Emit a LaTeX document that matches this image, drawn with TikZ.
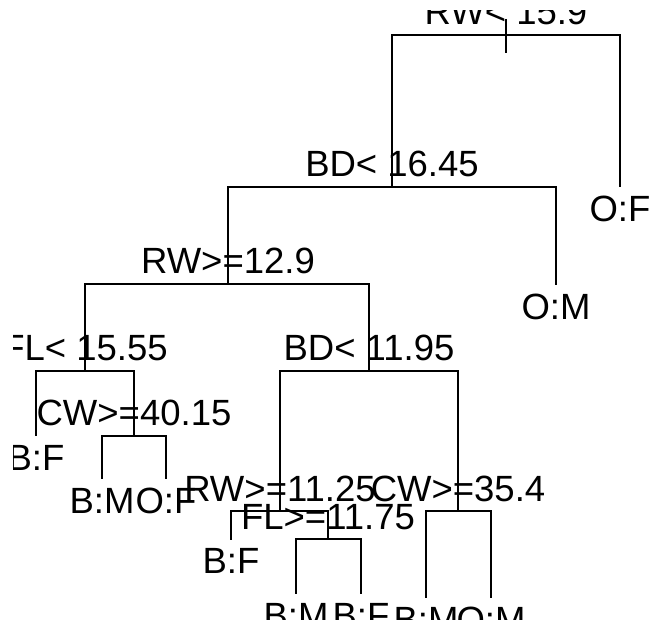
\documentclass[tikz,border=0pt]{standalone}
\usepackage{fontspec}
\setmainfont{Liberation Sans}
\begin{document}
\begin{tikzpicture}[x=1pt,y=-1pt,
  branch/.style={draw=black,line width=2pt},
  lbl/.style={anchor=base,inner sep=0pt,outer sep=0pt,font=\fontsize{36.5}{40}\selectfont}]
\useasboundingbox (0,0) rectangle (649,628);
\begin{scope}
\clip (13,11) rectangle (649,620);
% tree node positions
\coordinate (root) at (506,35);
\coordinate (rtop) at (506,19);
\coordinate (rbot) at (506,53);
\coordinate (bd1) at (392,187);
\coordinate (of1) at (620,187);
\coordinate (rw1) at (228,284);
\coordinate (om1) at (556,285);
\coordinate (fl1) at (85,371);
\coordinate (bd2) at (369,371);
\coordinate (bf1) at (36,436);
\coordinate (cw1) at (134,436);
\coordinate (bm1) at (102,479);
\coordinate (of2) at (166,479);
\coordinate (rw2) at (280,511);
\coordinate (cw2) at (458,511);
\coordinate (bf2) at (231,540);
\coordinate (fl2) at (328,539);
\coordinate (bm2) at (296,594);
\coordinate (bf3) at (361,594);
\coordinate (bm3) at (426,598);
\coordinate (om2) at (491,598);
% branches
\draw[branch] (rtop) -- (rbot);
\draw[branch] (root) -| (bd1);
\draw[branch] (root) -| (of1);
\draw[branch] (bd1) -| (rw1);
\draw[branch] (bd1) -| (om1);
\draw[branch] (rw1) -| (fl1);
\draw[branch] (rw1) -| (bd2);
\draw[branch] (fl1) -| (bf1);
\draw[branch] (fl1) -| (cw1);
\draw[branch] (cw1) -| (bm1);
\draw[branch] (cw1) -| (of2);
\draw[branch] (bd2) -| (rw2);
\draw[branch] (bd2) -| (cw2);
\draw[branch] (rw2) -| (bf2);
\draw[branch] (rw2) -| (fl2);
\draw[branch] (fl2) -| (bm2);
\draw[branch] (fl2) -| (bf3);
\draw[branch] (cw2) -| (bm3);
\draw[branch] (cw2) -| (om2);
% split labels
\node[lbl] (lroot) at ([yshift=10pt]root) {RW< 15.9};
\node[lbl] (lbd1) at ([yshift=10.5pt]bd1) {BD< 16.45};
\node[lbl] (lrw1) at ([yshift=10pt]rw1) {RW>=12.9};
\node[lbl] (lfl1) at ([yshift=10.5pt]fl1) {FL< 15.55};
\node[lbl] (lbd2) at ([yshift=10.5pt]bd2) {BD< 11.95};
\node[lbl] (lcw1) at ([yshift=10.5pt]cw1) {CW>=40.15};
\node[lbl] (lrw2) at ([yshift=9.5pt]rw2) {RW>=11.25};
\node[lbl] (lcw2) at ([yshift=9.5pt]cw2) {CW>=35.4};
\node[lbl] (lfl2) at ([yshift=9.5pt]fl2) {FL>=11.75};
% leaf labels
\node[lbl] (lof1) at ([yshift=-35pt]of1) {O:F};
\node[lbl] (lom1) at ([yshift=-35pt]om1) {O:M};
\node[lbl] (lbf1) at ([yshift=-34.5pt]bf1) {B:F};
\node[lbl] (lbm1) at ([yshift=-35pt]bm1) {B:M};
\node[lbl] (lof2) at ([yshift=-35pt]of2) {O:F};
\node[lbl] (lbf2) at ([yshift=-34pt]bf2) {B:F};
\node[lbl] (lbm2) at ([yshift=-34.5pt]bm2) {B:M};
\node[lbl] (lbf3) at ([yshift=-34.5pt]bf3) {B:F};
\node[lbl] (lbm3) at ([yshift=-34.5pt]bm3) {B:M};
\node[lbl] (lom2) at ([yshift=-34.5pt]om2) {O:M};
\end{scope}
\end{tikzpicture}
\end{document}
